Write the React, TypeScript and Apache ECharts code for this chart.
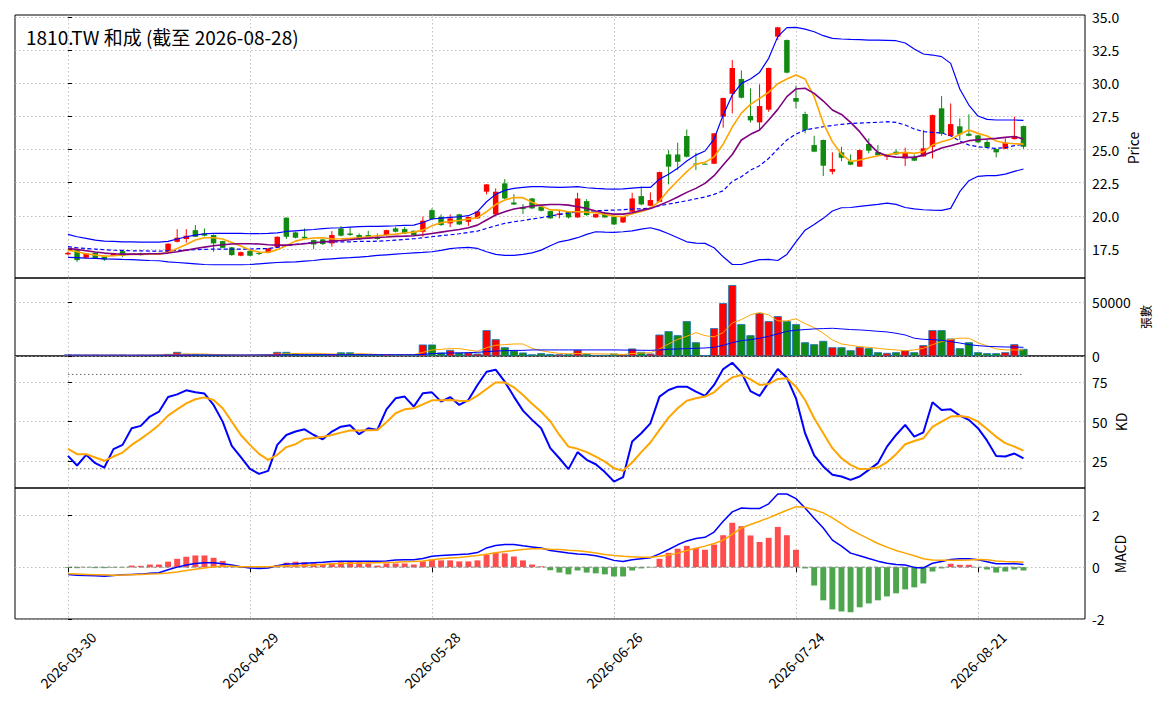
import React, { useEffect, useRef } from "react";
import * as echarts from "echarts";

// ---------- calendar ----------
const START_DATE = "2026-03-30";
const END_DATE = "2026-08-28";
const HOLIDAYS = ["2026-04-03", "2026-04-06", "2026-05-01", "2026-06-19"];

function tradingDays(start: string, end: string, skip: string[]): string[] {
  const out: string[] = [];
  const d = new Date(start + "T00:00:00Z");
  const e = new Date(end + "T00:00:00Z");
  while (d.getTime() <= e.getTime()) {
    const s = d.toISOString().slice(0, 10);
    const wd = d.getUTCDay();
    if (wd !== 0 && wd !== 6 && skip.indexOf(s) < 0) out.push(s);
    d.setUTCDate(d.getUTCDate() + 1);
  }
  return out;
}
const DATES = tradingDays(START_DATE, END_DATE, HOLIDAYS);
const X_TICKS = [0, 20, 40, 60, 80, 100];

// ---------- price ----------
const OPEN = [17.09,17.41,16.84,17.21,16.91,16.99,17.34,17.12,17.19,17.15,17.18,17.29,18.04,18.25,18.92,18.67,18.55,18.09,17.62,16.99,17.36,17.20,17.24,17.62,19.86,
18.75,18.42,18.17,18.22,17.92,19.05,18.67,18.55,18.55,18.42,18.55,19.05,19.00,18.87,18.80,20.43,19.93,19.43,20.11,19.55,19.81,21.82,20.11,22.45,21.01,
20.63,21.31,20.69,20.36,20.06,20.31,19.88,21.11,19.88,20.23,19.91,19.50,20.31,21.49,20.76,21.06,24.63,24.63,26.02,23.95,23.93,23.93,27.48,29.21,30.32,
27.53,27.05,28.01,33.52,33.26,28.89,27.68,25.34,25.72,23.33,24.79,24.13,23.71,25.42,24.81,24.46,24.84,24.33,24.46,24.48,25.21,28.11,26.02,26.75,26.19,
26.07,25.57,25.04,25.06,25.79,26.77];
const CLOSE = [17.21,16.66,17.16,16.79,16.71,17.19,16.99,17.14,17.04,17.18,17.16,17.89,18.35,18.50,18.42,18.50,17.92,17.59,17.04,17.26,16.99,17.14,17.54,18.42,18.42,
18.35,18.30,17.84,17.87,18.55,18.50,18.55,18.22,18.42,18.25,18.92,18.80,18.67,18.55,19.63,19.75,19.30,19.81,19.35,19.91,20.33,22.37,21.82,21.31,20.86,
20.51,20.56,20.38,19.81,20.18,19.88,21.31,20.06,20.13,19.88,19.35,19.98,21.31,20.86,21.19,23.30,23.71,24.08,24.46,23.88,23.91,26.22,28.89,31.15,28.91,
27.20,28.28,31.15,34.22,30.80,28.61,26.47,24.84,23.78,23.53,24.38,23.86,24.96,24.91,24.58,24.63,24.63,24.81,24.16,25.09,27.60,26.19,26.92,26.15,26.04,
25.54,25.16,24.79,25.52,26.02,25.21];
const HIGH = [17.29,17.45,17.20,17.25,16.95,17.22,17.38,17.20,17.22,17.22,17.22,17.95,19.00,19.00,19.30,19.05,18.60,18.12,17.65,17.30,17.40,17.29,17.58,18.45,19.88,
18.80,19.05,18.20,18.25,18.85,19.23,19.15,18.67,18.87,18.67,18.95,19.18,19.15,18.90,19.95,20.56,20.11,20.11,20.15,19.95,20.36,22.40,22.07,22.77,21.64,
20.89,21.35,20.72,20.40,20.43,20.35,21.74,21.26,20.16,20.26,19.95,20.00,21.74,22.20,21.77,23.33,24.96,25.52,26.52,24.76,23.95,26.25,28.92,31.76,30.97,
29.62,29.92,31.18,34.25,33.30,29.82,27.85,26.04,25.75,24.79,25.21,24.63,25.00,25.84,25.34,24.66,25.01,25.14,24.63,26.47,27.63,29.03,28.48,27.35,27.65,
26.10,25.77,25.07,25.84,27.48,26.80];
const LOW = [17.04,16.53,16.80,16.75,16.60,16.95,16.90,17.05,17.00,17.10,17.12,17.25,18.00,17.97,18.40,18.45,17.29,17.55,16.99,16.95,16.95,17.04,17.20,17.60,18.25,
18.30,18.25,17.49,17.80,17.67,18.45,18.50,18.20,18.40,18.20,18.50,18.75,18.62,18.50,18.42,19.70,19.25,19.15,19.30,19.25,19.78,21.62,20.06,21.26,20.83,
20.13,20.50,20.33,19.78,19.81,19.80,19.85,20.00,19.85,19.85,19.30,19.45,20.28,20.80,20.72,21.02,22.37,23.45,24.40,23.45,23.88,23.90,26.65,27.73,28.85,
27.03,26.52,27.85,33.26,30.75,28.11,26.22,24.80,23.00,23.13,24.13,23.82,23.68,24.71,24.55,24.21,24.60,23.76,24.13,24.45,24.33,26.04,25.99,25.72,26.00,
25.50,25.12,24.41,25.03,25.76,25.06];

const MA5 = [17.41,17.29,17.14,17.04,16.96,16.99,17.04,17.09,17.09,17.11,17.11,17.24,17.54,17.84,18.17,18.35,18.35,18.25,17.99,17.72,17.42,17.27,17.24,17.45,17.75,
18.09,18.25,18.33,18.35,18.25,18.27,18.30,18.35,18.42,18.50,18.55,18.62,18.70,18.77,18.92,19.25,19.48,19.58,19.65,19.75,19.86,20.31,20.85,21.20,21.38,
21.37,21.03,20.74,20.45,20.43,20.31,20.31,20.28,20.23,20.11,19.98,19.93,20.16,20.33,20.56,21.11,21.94,22.65,23.33,23.91,24.03,24.45,25.40,26.70,27.75,
28.41,28.86,29.32,29.97,30.32,30.62,30.32,28.99,27.00,25.60,24.65,24.10,24.21,24.38,24.53,24.61,24.71,24.79,24.71,24.84,25.34,25.59,25.77,26.15,26.47,
26.22,26.02,25.64,25.49,25.44,25.41];
const MA10 = [17.54,17.47,17.37,17.27,17.19,17.14,17.11,17.11,17.11,17.14,17.14,17.19,17.29,17.41,17.54,17.64,17.74,17.82,17.87,17.89,17.89,17.87,17.82,17.79,17.79,
17.84,17.89,17.97,18.02,18.09,18.14,18.20,18.27,18.32,18.37,18.40,18.45,18.47,18.50,18.57,18.67,18.77,18.87,18.97,19.10,19.30,19.68,20.06,20.31,20.51,
20.63,20.74,20.81,20.86,20.86,20.81,20.69,20.56,20.36,20.21,20.13,20.13,20.23,20.41,20.56,20.79,21.09,21.42,21.77,22.07,22.45,23.03,23.83,24.63,25.72,
26.15,26.47,27.23,28.03,28.99,29.57,29.62,29.24,28.66,27.98,27.65,27.05,26.35,25.47,24.79,24.53,24.43,24.41,24.41,24.58,24.84,25.11,25.29,25.47,25.67,
25.74,25.79,25.84,25.92,25.99,25.79];
const BB_UP = [18.60,18.42,18.30,18.17,18.09,18.07,18.04,18.04,18.02,18.02,18.02,18.07,18.25,18.42,18.55,18.65,18.67,18.67,18.67,18.67,18.65,18.65,18.67,18.72,18.82,
18.87,18.92,18.97,19.03,19.08,19.10,19.15,19.18,19.20,19.20,19.23,19.25,19.28,19.30,19.50,19.76,19.83,19.88,19.93,20.01,20.31,21.06,21.62,21.92,22.07,
22.14,22.20,22.20,22.17,22.14,22.17,22.20,22.12,22.07,22.04,22.02,22.04,22.09,22.14,22.14,22.77,23.13,23.58,24.13,24.58,24.89,25.79,27.60,29.11,29.99,
30.32,30.82,31.88,33.52,34.20,34.22,34.09,33.89,33.59,33.39,33.34,33.31,33.29,33.26,33.26,33.24,33.21,33.04,32.59,32.21,32.13,32.01,31.50,29.57,28.36,
27.53,27.28,27.23,27.23,27.23,27.20];
const BB_MID = [17.67,17.59,17.54,17.49,17.44,17.41,17.39,17.36,17.36,17.34,17.34,17.36,17.39,17.41,17.44,17.47,17.49,17.49,17.49,17.49,17.49,17.52,17.54,17.62,17.74,
17.84,17.92,17.97,18.02,18.04,18.04,18.04,18.07,18.07,18.09,18.12,18.17,18.22,18.27,18.35,18.42,18.50,18.57,18.65,18.75,18.85,19.05,19.25,19.43,19.55,
19.65,19.76,19.86,19.98,20.11,20.21,20.31,20.33,20.38,20.41,20.43,20.46,20.51,20.53,20.58,20.76,20.89,21.01,21.14,21.29,21.42,21.62,21.89,22.60,22.95,
23.45,23.78,24.33,25.04,25.72,26.17,26.47,26.60,26.72,26.82,26.90,26.97,27.00,27.03,27.05,27.10,27.05,26.85,26.55,26.35,26.30,26.25,26.04,25.64,25.34,
25.21,25.14,25.09,25.14,25.29,25.39];
const BB_LOW = [16.86,16.84,16.81,16.79,16.76,16.74,16.71,16.69,16.66,16.63,16.61,16.53,16.48,16.43,16.38,16.33,16.31,16.31,16.31,16.31,16.33,16.38,16.43,16.48,16.51,
16.53,16.58,16.63,16.71,16.76,16.81,16.84,16.89,16.94,17.01,17.06,17.11,17.16,17.21,17.24,17.29,17.39,17.52,17.59,17.62,17.54,17.29,17.09,17.01,17.01,
17.09,17.21,17.41,17.74,18.04,18.17,18.35,18.60,18.80,18.77,18.75,18.80,18.87,19.00,19.10,18.92,18.65,18.35,18.04,17.94,17.92,17.59,16.91,16.33,16.33,
16.53,16.69,16.71,16.63,17.09,18.04,18.92,19.35,19.81,20.36,20.61,20.63,20.71,20.79,20.86,20.96,20.86,20.63,20.53,20.46,20.43,20.41,20.56,21.82,22.65,
22.98,23.03,23.03,23.15,23.35,23.53];

// ---------- volume (張) ----------
const VOLUME = [1100,900,800,900,700,800,900,600,700,600,700,1500,3400,1600,1400,1200,1300,1000,900,800,900,700,1100,3400,3400,
2200,1300,1400,1200,1200,3000,3000,1300,1000,1200,1200,900,900,1000,10200,10200,2800,5200,2800,2800,1850,23500,15100,7700,4600,
2800,1200,2200,1500,1200,1500,5200,1850,600,700,1850,1200,6500,3400,1850,19400,22500,18800,31800,12300,400,25300,48400,65100,29000,
18800,39200,31800,36400,31800,29000,12300,10500,13600,7700,7700,4900,8000,6800,3100,2500,3100,4900,3100,9600,23500,23500,15700,6800,12300,
3100,2200,2200,3100,10500,6200];
const VOL_MA5 = [700,700,700,700,700,700,700,700,800,900,1000,1300,1600,1800,1900,1800,1500,1200,1000,900,900,1000,1300,1700,2000,
2200,2500,2500,2200,1850,1500,1500,2200,1850,1500,1200,1200,1200,1200,3400,5500,6200,6800,6800,5500,4300,7700,9900,10500,11100,
11100,7000,5000,3500,2400,2000,2300,2100,2000,1900,1800,1400,2300,2800,3000,6500,11100,15400,18200,21600,18800,17600,21600,30500,33600,
38000,40100,38000,32400,32400,34300,29900,26200,21000,14800,11100,9900,8600,8000,7100,6200,5600,4900,5600,7100,10500,13300,15400,16400,16400,
12300,9300,6500,5600,5600,5600];
const VOL_MA20 = [800,800,800,800,800,800,800,800,800,800,800,900,900,900,900,900,900,900,900,900,900,1000,1000,1000,1100,
1100,1100,1100,1200,1200,1200,1200,1200,1200,1200,1200,1200,1200,1200,1400,2200,2500,2800,2800,3100,3400,4000,4600,4900,5200,
5200,5600,5600,5600,5600,5600,5600,5600,5600,5600,5600,5500,5400,5300,5200,5600,6200,6500,6800,7100,7400,8000,9900,12300,14200,
15100,16400,18200,20400,22800,23800,24400,25000,25300,25600,25000,24400,24100,23500,22800,22200,21000,19400,16400,15400,15100,14500,13300,12000,10500,
9600,8900,8600,8300,8300,8000];

// ---------- KD ----------
const K_LINE = [28.2,22.1,28.9,23.6,20.8,32.5,35.2,45.8,47.3,53.2,56.3,65.6,67.3,69.9,68.6,67.8,60.6,50.0,34.6,27.4,20.0,16.8,18.7,35.2,41.5,
43.7,45.1,41.5,38.8,43.7,46.8,47.7,42.0,45.8,44.7,57.8,64.8,65.9,59.5,68.0,68.6,62.7,65.6,60.6,63.7,73.3,81.7,83.0,75.4,65.9,
57.0,51.1,45.8,33.1,26.7,19.8,30.6,25.7,22.9,17.9,11.9,14.7,37.3,42.6,48.9,65.9,70.1,72.2,72.2,69.0,66.3,73.3,83.4,87.4,81.3,
69.4,66.3,74.9,83.4,77.9,64.8,42.6,28.5,21.5,16.2,15.1,13.0,15.1,19.3,23.6,34.1,41.5,47.9,40.5,43.2,62.3,57.4,57.8,53.8,51.1,
45.8,37.9,28.2,27.8,29.7,26.7];
const D_LINE = [32.7,29.3,29.3,27.2,25.1,27.8,30.3,35.2,39.0,43.2,47.9,53.8,57.8,61.6,64.2,65.4,63.7,58.5,50.0,41.5,35.2,29.5,25.7,28.9,33.8,
35.6,39.0,39.6,40.3,41.5,43.0,44.3,44.3,44.5,44.7,49.6,55.3,57.8,58.5,61.0,63.5,63.5,63.7,63.3,63.1,66.5,70.7,74.9,74.9,71.8,
66.9,61.4,56.3,50.2,41.5,34.1,32.7,30.6,27.8,24.6,20.4,18.7,24.0,30.6,36.7,44.7,52.5,58.5,63.3,64.8,65.9,68.6,73.9,78.1,79.6,
76.8,73.3,73.9,77.1,77.5,72.2,63.7,52.1,42.6,33.1,26.7,22.5,19.8,20.0,20.8,24.2,29.3,35.6,37.7,39.4,46.6,50.0,53.2,53.6,52.7,
50.0,45.3,40.3,36.3,34.1,31.6];
const KD_HIGH = 80;
const KD_LOW = 20;

// ---------- MACD ----------
const DIF = [-0.28,-0.31,-0.32,-0.33,-0.35,-0.32,-0.29,-0.28,-0.27,-0.24,-0.22,-0.10,0.00,0.08,0.14,0.17,0.17,0.13,0.08,0.01,-0.03,-0.05,-0.03,0.05,0.12,
0.13,0.15,0.17,0.19,0.22,0.23,0.23,0.23,0.23,0.23,0.24,0.27,0.28,0.28,0.33,0.42,0.45,0.47,0.49,0.51,0.56,0.74,0.83,0.87,0.87,
0.82,0.78,0.74,0.64,0.59,0.54,0.51,0.49,0.44,0.36,0.26,0.22,0.28,0.32,0.36,0.51,0.68,0.86,1.01,1.10,1.15,1.35,1.77,2.13,2.28,
2.26,2.26,2.44,2.82,2.82,2.64,2.28,1.88,1.51,1.04,0.81,0.54,0.44,0.33,0.23,0.15,0.10,0.08,-0.01,-0.03,0.15,0.22,0.29,0.32,0.32,
0.28,0.21,0.13,0.13,0.14,0.10];
const DEA = [-0.26,-0.27,-0.28,-0.29,-0.29,-0.31,-0.30,-0.29,-0.28,-0.27,-0.26,-0.23,-0.19,-0.13,-0.08,-0.03,0.01,0.03,0.03,0.01,0.01,0.01,0.01,0.03,0.05,
0.05,0.06,0.08,0.10,0.13,0.14,0.15,0.15,0.17,0.17,0.18,0.19,0.21,0.22,0.24,0.28,0.32,0.35,0.37,0.41,0.45,0.50,0.55,0.60,0.64,
0.68,0.71,0.71,0.69,0.68,0.65,0.63,0.59,0.54,0.49,0.45,0.42,0.40,0.38,0.38,0.42,0.47,0.54,0.64,0.73,0.81,0.91,1.04,1.26,1.51,
1.64,1.77,1.90,2.05,2.19,2.33,2.31,2.21,2.09,1.90,1.68,1.45,1.26,1.09,0.91,0.77,0.64,0.54,0.44,0.32,0.27,0.26,0.26,0.26,0.27,
0.29,0.28,0.24,0.22,0.21,0.19];
const HIST = [-0.03,-0.04,-0.01,-0.04,-0.04,-0.02,-0.01,0.06,0.05,0.10,0.10,0.21,0.32,0.40,0.45,0.45,0.36,0.24,0.03,-0.02,-0.02,-0.03,0.01,0.08,0.17,
0.21,0.19,0.15,0.13,0.15,0.19,0.21,0.19,0.14,0.06,0.14,0.14,0.14,0.10,0.22,0.29,0.26,0.26,0.22,0.22,0.26,0.47,0.56,0.53,0.41,
0.26,0.10,0.03,-0.12,-0.21,-0.28,-0.13,-0.21,-0.24,-0.28,-0.36,-0.36,-0.13,-0.05,-0.01,0.32,0.55,0.71,0.82,0.74,0.67,0.87,1.23,1.71,1.58,
1.22,0.97,1.13,1.55,1.23,0.67,-0.05,-0.71,-1.28,-1.63,-1.71,-1.74,-1.55,-1.40,-1.28,-1.13,-1.01,-0.86,-0.78,-0.63,-0.17,-0.05,0.13,0.09,0.09,
-0.01,-0.09,-0.21,-0.17,-0.09,-0.13];

// ---------- texts / ticks ----------
const TITLE = "1810.TW 和成 (截至 2026-08-28)";
const PRICE_TICKS = [17.5, 20.0, 22.5, 25.0, 27.5, 30.0, 32.5, 35.0];
const VOL_TICKS = [0, 50000];
const KD_TICKS = [25, 50, 75];
const MACD_TICKS = [-2, 0, 2];

const FONT = '"Noto Sans CJK TC", "Noto Sans", sans-serif';
const RED = "#ff0000";
const GREEN = "#128a12";
const X_MIN = -5.82;
const X_MAX = 111.76;

function buildOption(): any {
  const n = CLOSE.length;
  const pairs = (arr: number[]) => arr.map((v, i) => [i, v]);
  const gridLine = { show: true, lineStyle: { color: "#b0b0b0", width: 0.8, type: [1.5, 2.5] } };

  const grids = [
    { top: 15, height: 263 },
    { top: 278, height: 78 },
    { top: 356, height: 132 },
    { top: 488, height: 131 },
  ].map((g) => ({
    left: 15,
    width: 1070,
    top: g.top,
    height: g.height,
    show: true,
    borderColor: "#000",
    borderWidth: 1,
    backgroundColor: "transparent",
    containLabel: false,
    outerBoundsMode: "none",
  }));

  const xAxes = [0, 1, 2, 3].map((i) => ({
    type: "value",
    gridIndex: i,
    min: X_MIN,
    max: X_MAX,
    axisLine: { show: false },
    axisTick: {
      show: i === 3,
      customValues: X_TICKS,
      length: 5,
      lineStyle: { color: "#000", width: 1 },
    },
    axisLabel:
      i === 3
        ? {
            show: true,
            customValues: X_TICKS,
            formatter: (v: number) => DATES[Math.round(v)] || "",
            rotate: 45,
            align: "center",
            verticalAlign: "middle",
            margin: 41,
            fontSize: 14,
            color: "#000",
            fontFamily: FONT,
          }
        : { show: false },
    splitLine: gridLine,
  }));

  const yAxis = (i: number, min: number, max: number, ticks: number[], fmt: (v: number) => string) => ({
    type: "value",
    gridIndex: i,
    position: "right",
    min,
    max,
    axisLine: { show: false },
    axisTick: { show: true, customValues: ticks, length: 4, lineStyle: { color: "#000", width: 1 } },
    axisLabel: {
      show: true,
      customValues: ticks,
      formatter: fmt,
      margin: 7,
      fontSize: 14,
      color: "#000",
      fontFamily: FONT,
    },
    splitLine: gridLine,
  });

  const yAxes = [
    yAxis(0, 15.31, 35.15, PRICE_TICKS, (v) => v.toFixed(1)),
    yAxis(1, 0, 72000, VOL_TICKS, (v) => String(Math.round(v))),
    yAxis(2, 7.8, 91.7, KD_TICKS, (v) => String(Math.round(v))),
    yAxis(3, -2.0, 3.05, MACD_TICKS, (v) => String(Math.round(v))),
  ];

  const line = (data: number[], gi: number, color: string, width: number, type: any = "solid", z = 4) => ({
    type: "line",
    xAxisIndex: gi,
    yAxisIndex: gi,
    data: pairs(data),
    showSymbol: false,
    symbol: "none",
    silent: true,
    z,
    lineStyle: { color, width, type },
  });

  const candleSeries = {
    type: "custom",
    xAxisIndex: 0,
    yAxisIndex: 0,
    z: 2,
    silent: true,
    clip: true,
    data: CLOSE.map((c, i) => [i, OPEN[i], c, LOW[i], HIGH[i]]),
    encode: { x: 0, y: [1, 2, 3, 4] },
    renderItem: (params: any, api: any) => {
      const i = api.value(0);
      const o = api.value(1);
      const c = api.value(2);
      const l = api.value(3);
      const h = api.value(4);
      const pO = api.coord([i, o]);
      const pC = api.coord([i, c]);
      const pL = api.coord([i, l]);
      const pH = api.coord([i, h]);
      const w = api.size([0.6, 0])[0];
      const color = c >= o ? RED : GREEN;
      const top = Math.min(pO[1], pC[1]);
      const hgt = Math.max(Math.abs(pO[1] - pC[1]), 1);
      return {
        type: "group",
        children: [
          { type: "line", shape: { x1: pH[0], y1: pH[1], x2: pL[0], y2: pL[1] }, style: { stroke: color, lineWidth: 1 } },
          { type: "rect", shape: { x: pO[0] - w / 2, y: top, width: w, height: hgt }, style: { fill: color } },
        ],
      };
    },
  };

  const volumeSeries = {
    type: "custom",
    xAxisIndex: 1,
    yAxisIndex: 1,
    z: 2,
    silent: true,
    clip: true,
    data: VOLUME.map((v, i) => [i, v, CLOSE[i] >= OPEN[i] ? 1 : 0]),
    encode: { x: 0, y: 1 },
    renderItem: (params: any, api: any) => {
      const i = api.value(0);
      const v = api.value(1);
      const up = api.value(2) === 1;
      const p0 = api.coord([i, 0]);
      const p1 = api.coord([i, v]);
      const w = api.size([0.8, 0])[0];
      return {
        type: "rect",
        shape: { x: p0[0] - w / 2, y: p1[1], width: w, height: p0[1] - p1[1] },
        style: { fill: up ? RED : GREEN, stroke: "#1f77b4", lineWidth: 0.9 },
      };
    },
  };

  const histSeries = {
    type: "custom",
    xAxisIndex: 3,
    yAxisIndex: 3,
    z: 2,
    silent: true,
    clip: true,
    data: pairs(HIST),
    encode: { x: 0, y: 1 },
    renderItem: (params: any, api: any) => {
      const i = api.value(0);
      const v = api.value(1);
      const p0 = api.coord([i, 0]);
      const p1 = api.coord([i, v]);
      const w = api.size([0.65, 0])[0];
      const y = Math.min(p0[1], p1[1]);
      const hh = Math.abs(p0[1] - p1[1]);
      return {
        type: "rect",
        shape: { x: p0[0] - w / 2, y, width: w, height: hh },
        style: { fill: v >= 0 ? "#ff4d4d" : "#4da64d" },
      };
    },
  };

  const refLine = (value: number, gi: number, color: string, type: any) => ({
    type: "line",
    xAxisIndex: gi,
    yAxisIndex: gi,
    data: [[0, value], [n - 1, value]],
    showSymbol: false,
    symbol: "none",
    silent: true,
    z: 3,
    lineStyle: { color, width: 1, type },
  });

  const series = [
    candleSeries,
    line(BB_UP, 0, "#0000ff", 1.2),
    line(BB_MID, 0, "#0000ff", 1.2, [4, 2.5]),
    line(BB_LOW, 0, "#0000ff", 1.2),
    line(MA5, 0, "#ffa500", 1.6),
    line(MA10, 0, "#800080", 1.6),
    volumeSeries,
    line(VOL_MA5, 1, "#ffa500", 1),
    line(VOL_MA20, 1, "#0000ff", 1),
    refLine(KD_HIGH, 2, "#666666", [1.5, 2.5]),
    refLine(KD_LOW, 2, "#666666", [1.5, 2.5]),
    line(K_LINE, 2, "#0000ff", 2),
    line(D_LINE, 2, "#ffa500", 2),
    histSeries,
    refLine(0, 3, "#888888", [4, 2.5]),
    line(DIF, 3, "#0000ff", 1.5),
    line(DEA, 3, "#ffa500", 1.5),
  ];

  const vText = (text: string, x: number, y: number, size: number) => ({
    type: "text",
    x,
    y,
    rotation: Math.PI / 2,
    silent: true,
    style: {
      text,
      fill: "#000",
      fontSize: size,
      fontFamily: FONT,
      textAlign: "center",
      textVerticalAlign: "middle",
      align: "center",
      verticalAlign: "middle",
    },
  });

  return {
    animation: false,
    backgroundColor: "#ffffff",
    textStyle: { fontFamily: FONT },
    grid: grids,
    xAxis: xAxes,
    yAxis: yAxes,
    series,
    graphic: [
      {
        type: "text",
        x: 26,
        y: 36,
        silent: true,
        style: {
          text: TITLE,
          fill: "#000",
          fontSize: 19,
          fontFamily: FONT,
          textAlign: "left",
          textVerticalAlign: "middle",
          align: "left",
          verticalAlign: "middle",
        },
      },
      vText("Price", 1133, 148, 14),
      vText("張數", 1145, 317, 12),
      vText("KD", 1121, 422, 14),
      vText("MACD", 1120, 554, 14),
    ],
  };
}

export default function App() {
  const ref = useRef<HTMLDivElement>(null);
  useEffect(() => {
    if (!ref.current) return;
    const chart = echarts.init(ref.current, undefined, { renderer: "svg" });
    chart.setOption(buildOption());
    return () => {
      chart.dispose();
    };
  }, []);
  return (
    <div
      ref={ref}
      style={{ position: "absolute", left: 0, top: 0, width: 1163, height: 704, background: "#fff" }}
    />
  );
}
